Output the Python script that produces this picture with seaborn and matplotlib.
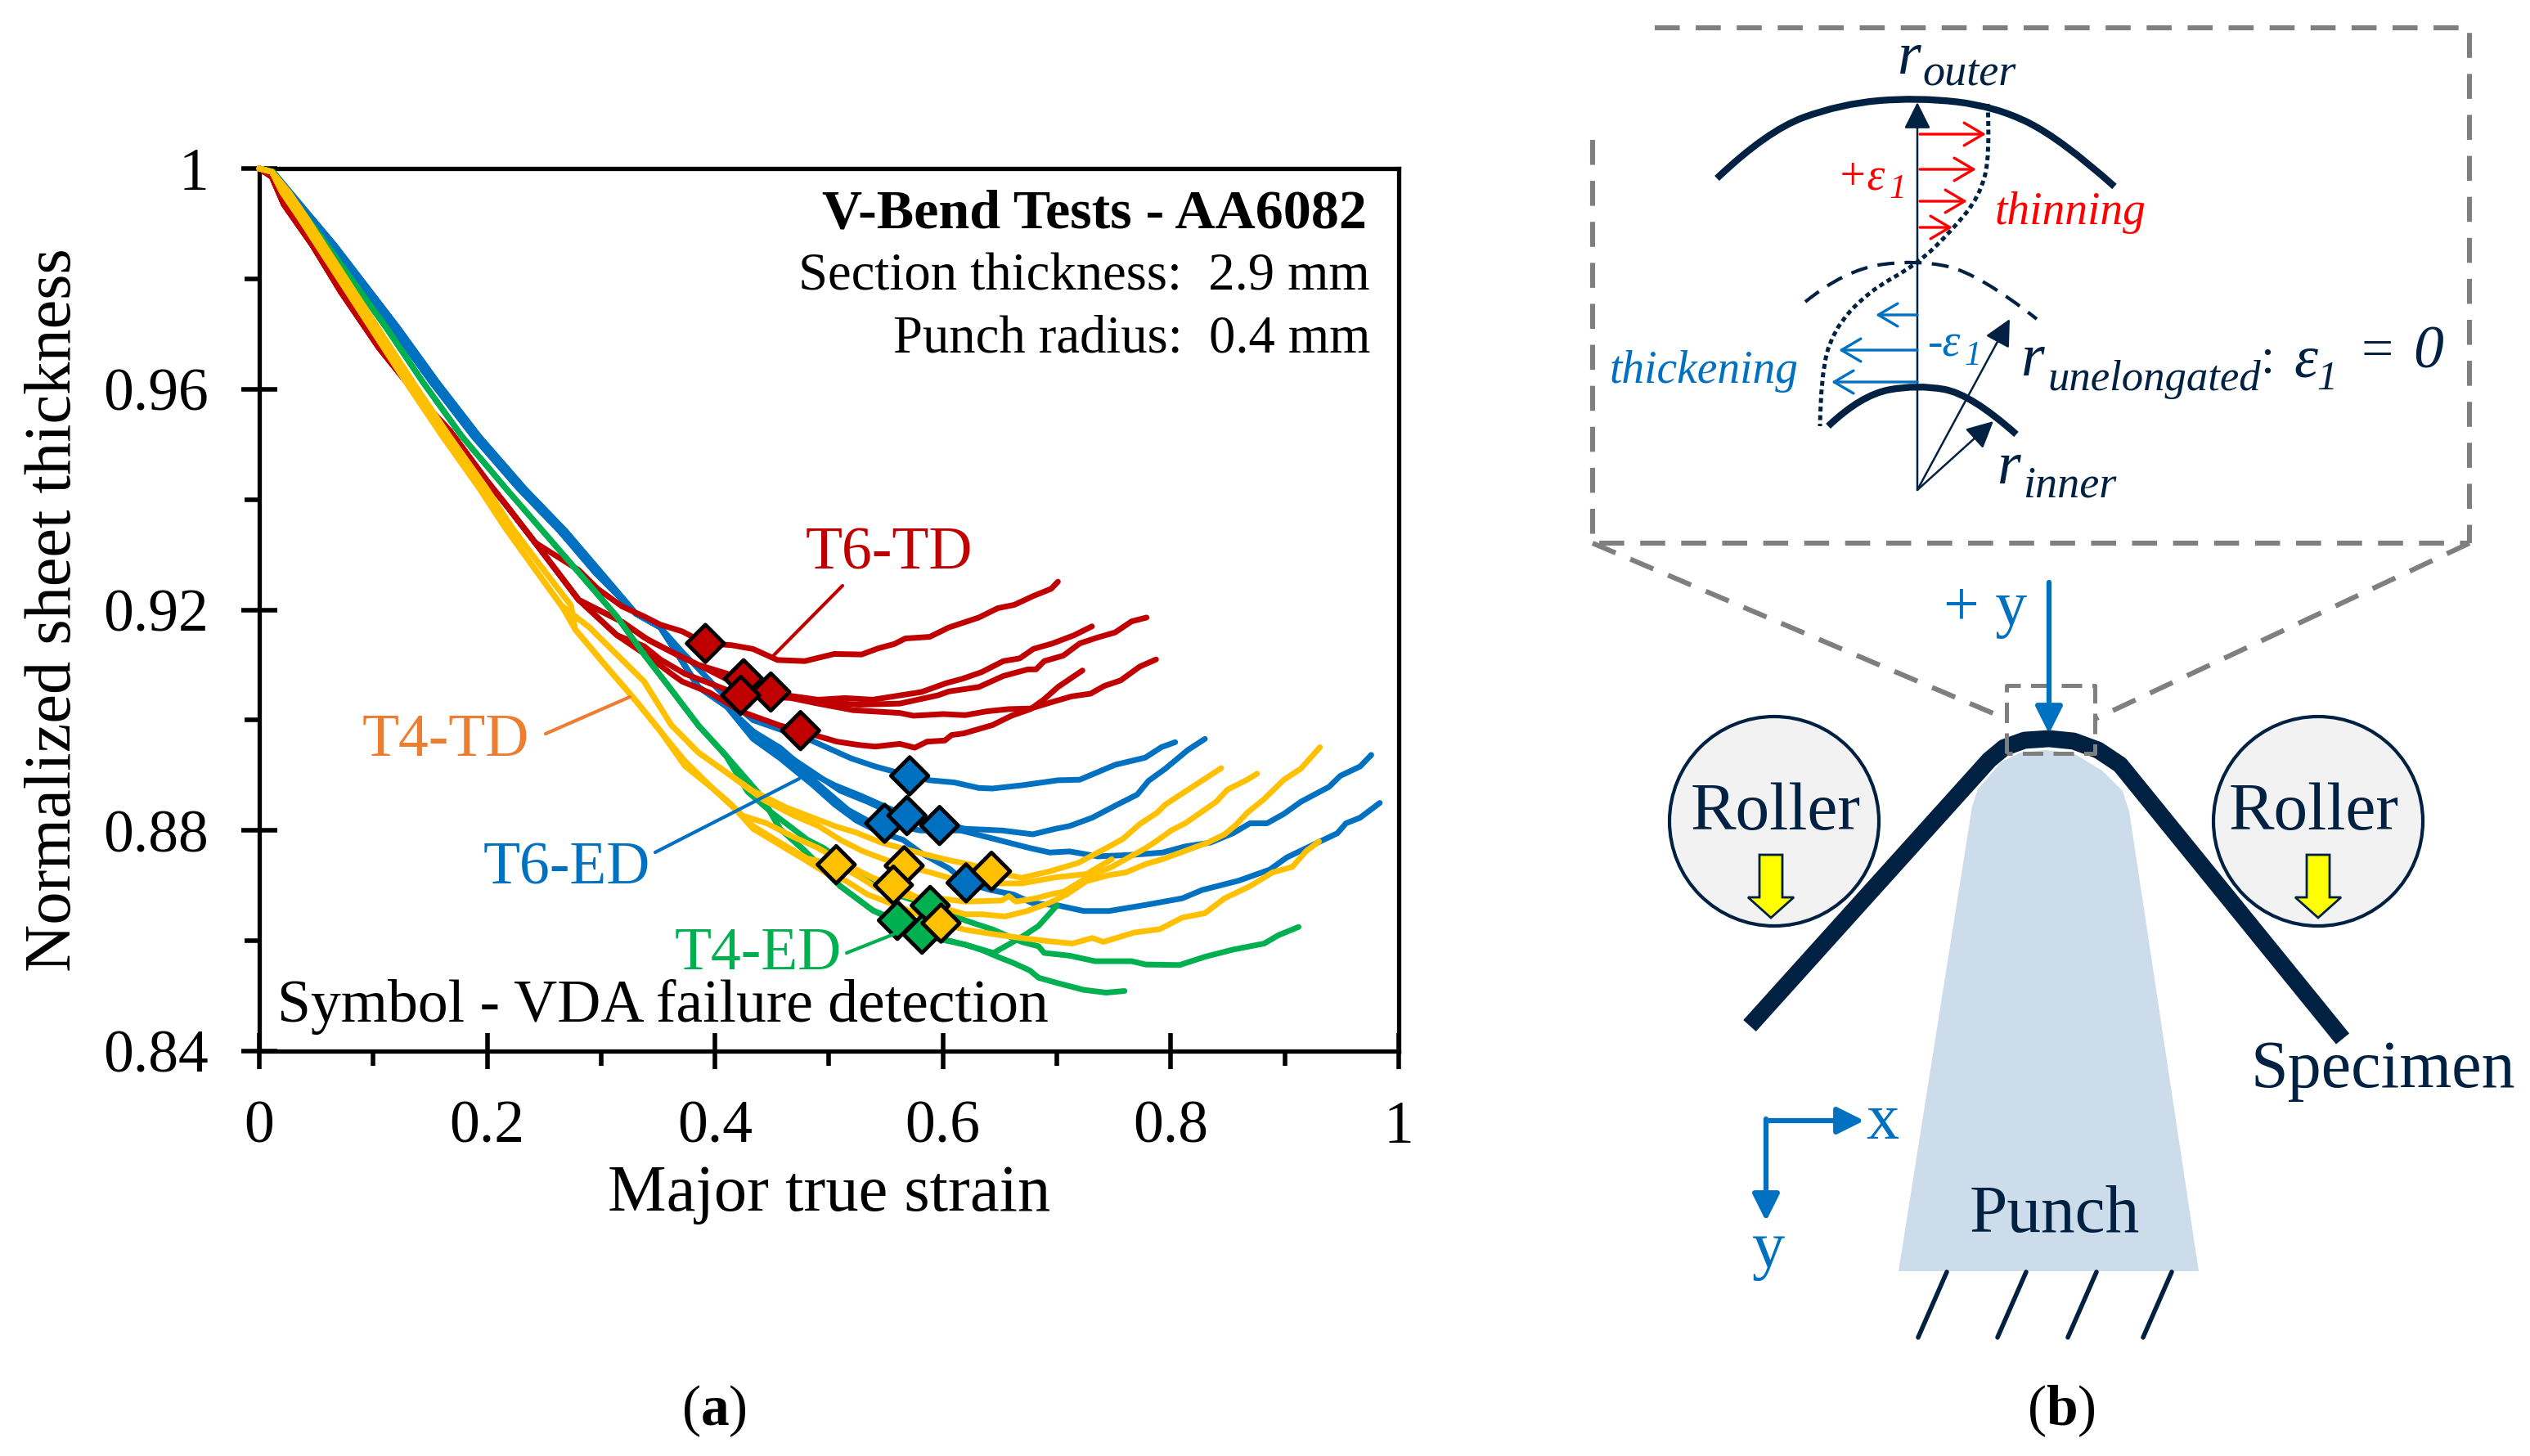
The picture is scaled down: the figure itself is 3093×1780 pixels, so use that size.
import numpy as np
import pandas as pd
import matplotlib
matplotlib.use("Agg")
import matplotlib.pyplot as plt
from matplotlib.path import Path
from matplotlib.patches import PathPatch, Circle, Polygon
import seaborn as sns

# colours
RED = "#C00000"
BLUE = "#0070C0"
GREEN = "#00B050"
YELLOW = "#FFC000"
ORANGE = "#ED7D31"
NAVY = "#002142"
GREY = "#7F7F7F"

# ---- panel (a) data ----
# common first part of the curves, two edges of each band
red_start_x = [0.0, 0.011, 0.0215, 0.0466, 0.0717, 0.105, 0.14, 0.1674, 0.2, 0.2181, 0.242]
red_start_y = [1.0, 0.9985, 0.9935, 0.9861, 0.9776, 0.9675, 0.9585, 0.9524, 0.9433, 0.9386, 0.9322]
blue_start_a_x = [0.0, 0.012, 0.0664, 0.1214, 0.156, 0.193, 0.2326, 0.269, 0.30]
blue_start_a_y = [1.0, 0.9994, 0.986, 0.9712, 0.9613, 0.9514, 0.942, 0.9342, 0.9267]
blue_start_b_x = [0.0, 0.012, 0.0614, 0.1164, 0.151, 0.188, 0.2276, 0.264, 0.295]
blue_start_b_y = [1.0, 0.9994, 0.986, 0.9712, 0.9613, 0.9514, 0.942, 0.9342, 0.9267]
green_start_x = [0.0, 0.012, 0.0598, 0.1112, 0.1435, 0.178, 0.2164, 0.2659, 0.3137, 0.3377, 0.3616, 0.3855, 0.4094]
green_start_y = [1.0, 0.9994, 0.986, 0.9712, 0.9613, 0.9514, 0.942, 0.9302, 0.9188, 0.9119, 0.9055, 0.899, 0.8936]
yellow_start_a_x = [0.0, 0.011, 0.02, 0.0355, 0.0666, 0.0977, 0.1287, 0.161, 0.1933, 0.2151, 0.239, 0.265]
yellow_start_a_y = [1.0, 0.9994, 0.9957, 0.991, 0.9811, 0.9712, 0.9613, 0.9514, 0.942, 0.9351, 0.9282, 0.9208]
yellow_start_b_x = [0.0, 0.011, 0.026, 0.0415, 0.0726, 0.1037, 0.1347, 0.167, 0.1993, 0.2211, 0.246, 0.2735]
yellow_start_b_y = [1.0, 0.9994, 0.9957, 0.991, 0.9811, 0.9712, 0.9613, 0.9514, 0.942, 0.9351, 0.9282, 0.9208]

t6td_x = [
    [0.2803, 0.297, 0.3185, 0.3377, 0.352, 0.371, 0.3915, 0.4142, 0.4333, 0.4548, 0.4787, 0.5047, 0.5286, 0.543, 0.5573, 0.5669, 0.5884, 0.6052, 0.6315, 0.6482, 0.6626, 0.6793, 0.6949, 0.7009],
    [0.2803, 0.3185, 0.3424, 0.3616, 0.3855, 0.4094, 0.425, 0.466, 0.4903, 0.5142, 0.5382, 0.5812, 0.6028, 0.6171, 0.6339, 0.653, 0.6674, 0.6793, 0.6961, 0.7152, 0.7308],
    [0.2803, 0.3185, 0.3377, 0.366, 0.3903, 0.4094, 0.4333, 0.4489, 0.4903, 0.5262, 0.5621, 0.5956, 0.6052, 0.6315, 0.653, 0.6745, 0.6817, 0.6889, 0.7057, 0.72, 0.7344, 0.7511, 0.7655, 0.7787],
    [0.2803, 0.3138, 0.3377, 0.352, 0.3735, 0.3975, 0.4225, 0.4668, 0.4903, 0.5214, 0.5621, 0.5741, 0.6004, 0.6195, 0.6387, 0.6578, 0.6769, 0.6961, 0.7128, 0.7296, 0.7416, 0.7559, 0.7727, 0.787],
    [0.2803, 0.3138, 0.3424, 0.3616, 0.3711, 0.395, 0.4237, 0.4572, 0.475, 0.4903, 0.507, 0.5262, 0.5406, 0.5621, 0.5752, 0.586, 0.6016, 0.6076, 0.6183, 0.6434, 0.6602, 0.6769, 0.6889, 0.7009, 0.7224],
]
t6td_y = [
    [0.9272, 0.9238, 0.9206, 0.9188, 0.9173, 0.9161, 0.9139, 0.9136, 0.9129, 0.9109, 0.9107, 0.912, 0.9119, 0.913, 0.9138, 0.9148, 0.9151, 0.9168, 0.9186, 0.9203, 0.9209, 0.9225, 0.9238, 0.9251],
    [0.9218, 0.9178, 0.9144, 0.9124, 0.91, 0.9085, 0.9075, 0.9044, 0.9037, 0.904, 0.9037, 0.9051, 0.9067, 0.9075, 0.9087, 0.9107, 0.9112, 0.9129, 0.9139, 0.9154, 0.917],
    [0.9218, 0.9178, 0.915, 0.9119, 0.9095, 0.9075, 0.9062, 0.9051, 0.9033, 0.9028, 0.903, 0.9045, 0.9052, 0.906, 0.908, 0.9092, 0.9092, 0.9107, 0.9117, 0.9139, 0.9149, 0.9159, 0.9179, 0.9186],
    [0.9218, 0.9154, 0.9134, 0.911, 0.9084, 0.9065, 0.9045, 0.904, 0.903, 0.9018, 0.9013, 0.9008, 0.9011, 0.9009, 0.9016, 0.902, 0.9021, 0.9033, 0.9043, 0.9048, 0.9062, 0.9072, 0.9097, 0.911],
    [0.9218, 0.9154, 0.9114, 0.9084, 0.907, 0.905, 0.9015, 0.899, 0.8981, 0.8971, 0.8961, 0.8955, 0.8952, 0.8957, 0.895, 0.8961, 0.8963, 0.8973, 0.8976, 0.8991, 0.9008, 0.902, 0.9038, 0.906, 0.909],
]
t6ed_x = [
    [0.3305, 0.352, 0.371, 0.41, 0.4333, 0.4835, 0.519, 0.5405, 0.5708, 0.5884, 0.61, 0.6315, 0.6434, 0.6698, 0.7009, 0.72, 0.7511, 0.7775, 0.7918, 0.8038],
    [0.3305, 0.352, 0.3855, 0.41, 0.433, 0.457, 0.481, 0.505, 0.529, 0.5505, 0.5684, 0.6195, 0.6517, 0.6789, 0.6987, 0.7111, 0.7309, 0.7532, 0.7705, 0.7804, 0.7952, 0.815, 0.8299],
    [0.3305, 0.352, 0.3855, 0.41, 0.433, 0.457, 0.481, 0.5099, 0.5338, 0.56, 0.597, 0.6195, 0.6443, 0.6764, 0.6938, 0.7111, 0.7358, 0.768, 0.7928, 0.8126, 0.8348, 0.8546, 0.8695, 0.8844, 0.8992, 0.9141, 0.9388, 0.9487, 0.9661, 0.9759],
    [0.3305, 0.352, 0.3855, 0.41, 0.4333, 0.457, 0.486, 0.505, 0.524, 0.543, 0.5649, 0.5816, 0.6055, 0.6203, 0.6418, 0.6616, 0.6789, 0.7012, 0.7235, 0.7457, 0.7779, 0.8101, 0.8274, 0.8596, 0.8868, 0.9017, 0.9289, 0.9462, 0.9537, 0.966, 0.9834],
    [0.3305, 0.352, 0.3855, 0.41, 0.433, 0.457, 0.486, 0.5027, 0.517, 0.5338, 0.5488, 0.58, 0.6195],
]
t6ed_y = [
    [0.9193, 0.9168, 0.9124, 0.904, 0.9, 0.8964, 0.8931, 0.8916, 0.8899, 0.8891, 0.8887, 0.8877, 0.8876, 0.8882, 0.8891, 0.8892, 0.8919, 0.8932, 0.8951, 0.896],
    [0.9193, 0.9168, 0.906, 0.9025, 0.898, 0.895, 0.8907, 0.8882, 0.8862, 0.8842, 0.8827, 0.8803, 0.88, 0.8793, 0.8803, 0.8808, 0.8823, 0.8847, 0.8865, 0.889, 0.8912, 0.8946, 0.8966],
    [0.9193, 0.9168, 0.906, 0.9025, 0.898, 0.8945, 0.8912, 0.8872, 0.8852, 0.8827, 0.8809, 0.8798, 0.8785, 0.8768, 0.876, 0.8762, 0.8753, 0.8756, 0.876, 0.8771, 0.8778, 0.8795, 0.8813, 0.8813, 0.883, 0.8852, 0.8879, 0.8899, 0.8916, 0.8937],
    [0.9193, 0.9168, 0.906, 0.9025, 0.8966, 0.8931, 0.8882, 0.8847, 0.8818, 0.8798, 0.8783, 0.8758, 0.8731, 0.8705, 0.8692, 0.8684, 0.8668, 0.8664, 0.8654, 0.8654, 0.8665, 0.8677, 0.8692, 0.8709, 0.8729, 0.8751, 0.8778, 0.8795, 0.8813, 0.8823, 0.885],
    [0.9193, 0.9168, 0.906, 0.9025, 0.898, 0.894, 0.8892, 0.8862, 0.8837, 0.8818, 0.8813, 0.88, 0.88],
]
t4ed_x = [
    [0.4405, 0.457, 0.4788, 0.5099, 0.5385, 0.56, 0.592, 0.6195, 0.6443, 0.6591, 0.6715, 0.6839, 0.70],
    [0.4286, 0.45, 0.4812, 0.4955, 0.529, 0.5433, 0.5888, 0.6195, 0.6443, 0.669, 0.6839, 0.6888, 0.7111, 0.7334, 0.7655, 0.7779, 0.8076, 0.8299, 0.8546, 0.8819, 0.8943, 0.9121],
    [0.4405, 0.457, 0.4788, 0.5099, 0.5385, 0.5816, 0.6195, 0.6344, 0.6492, 0.6616, 0.6764, 0.6839, 0.7012, 0.7235, 0.7433, 0.7593],
]
t4ed_y = [
    [0.8862, 0.8803, 0.8763, 0.8699, 0.8655, 0.8637, 0.8605, 0.8593, 0.8578, 0.8595, 0.861, 0.8627, 0.8664],
    [0.887, 0.8832, 0.8783, 0.8768, 0.8719, 0.8694, 0.8664, 0.8637, 0.862, 0.8598, 0.859, 0.8578, 0.8573, 0.8563, 0.8563, 0.8557, 0.8556, 0.8571, 0.8584, 0.8595, 0.861, 0.8625],
    [0.8862, 0.8803, 0.8763, 0.8699, 0.8655, 0.8612, 0.8593, 0.8583, 0.857, 0.856, 0.8546, 0.8533, 0.8523, 0.8511, 0.8506, 0.8509],
]
t4td_x = [
    [0.2898, 0.3137, 0.3377, 0.3616, 0.3855, 0.4094, 0.4429, 0.4692, 0.4907, 0.5099, 0.529, 0.548, 0.566, 0.5888, 0.6055, 0.6443, 0.669, 0.6987, 0.7259, 0.7482],
    [0.277, 0.3018, 0.3305, 0.352, 0.3735, 0.3975, 0.4237, 0.4453, 0.469, 0.4907, 0.5146, 0.5386, 0.5565, 0.5768, 0.6, 0.6195, 0.6517, 0.6579, 0.664, 0.6814, 0.6962, 0.7061, 0.7259, 0.7482, 0.7779, 0.7903, 0.8002, 0.8126, 0.8398, 0.8497, 0.867, 0.8757],
    [0.277, 0.3018, 0.3305, 0.352, 0.3736, 0.3975, 0.4142, 0.4333, 0.457, 0.481, 0.5063, 0.524, 0.5433, 0.572, 0.6007, 0.6195, 0.6344, 0.6542, 0.674, 0.6938, 0.7086, 0.7259, 0.7457, 0.7606, 0.7779, 0.7928, 0.8126, 0.8324, 0.8472, 0.8571, 0.867, 0.8819, 0.8992, 0.9141, 0.9309],
    [0.277, 0.3018, 0.3305, 0.352, 0.3736, 0.3975, 0.4142, 0.4333, 0.481, 0.5003, 0.5146, 0.5338, 0.5983, 0.6195, 0.6443, 0.669, 0.6938, 0.7136, 0.7309, 0.7408, 0.768, 0.7903, 0.8101, 0.8299, 0.8472, 0.8695, 0.8893, 0.9066, 0.919, 0.9301],
    [0.2898, 0.3137, 0.3377, 0.3616, 0.3855, 0.4094, 0.433, 0.462, 0.481, 0.505, 0.524, 0.5457, 0.5816, 0.6055, 0.6246, 0.6426, 0.669, 0.6938, 0.7185, 0.7433, 0.7581, 0.773, 0.7878, 0.7952, 0.81, 0.8249, 0.8442],
]
t4td_y = [
    [0.9168, 0.9119, 0.907, 0.8991, 0.8941, 0.8906, 0.8855, 0.8827, 0.8808, 0.8783, 0.8763, 0.8748, 0.8736, 0.8724, 0.8714, 0.8704, 0.8704, 0.8715, 0.8721, 0.8748],
    [0.9165, 0.9104, 0.9035, 0.898, 0.8926, 0.8877, 0.8827, 0.8813, 0.8788, 0.8768, 0.8739, 0.8714, 0.8701, 0.8679, 0.8676, 0.8671, 0.8673, 0.8681, 0.8671, 0.8677, 0.8685, 0.8689, 0.8714, 0.8734, 0.8768, 0.8785, 0.88, 0.8813, 0.8852, 0.8874, 0.8892, 0.8903],
    [0.9165, 0.9104, 0.9035, 0.898, 0.8917, 0.8877, 0.8847, 0.8808, 0.8778, 0.8749, 0.8738, 0.8719, 0.8694, 0.8679, 0.8659, 0.8648, 0.8648, 0.8644, 0.8654, 0.8669, 0.8684, 0.8708, 0.8719, 0.8724, 0.8739, 0.8748, 0.8763, 0.8778, 0.8793, 0.881, 0.8832, 0.8857, 0.8892, 0.8912, 0.8951],
    [0.9165, 0.9104, 0.9035, 0.898, 0.8917, 0.8877, 0.8847, 0.8803, 0.8744, 0.8719, 0.8709, 0.8684, 0.8632, 0.862, 0.8612, 0.8605, 0.8599, 0.8595, 0.8605, 0.8598, 0.8615, 0.8621, 0.8642, 0.865, 0.8677, 0.8699, 0.8724, 0.8734, 0.8763, 0.878],
    [0.9168, 0.9119, 0.907, 0.8991, 0.8941, 0.8906, 0.8872, 0.8842, 0.8827, 0.8808, 0.8796, 0.8778, 0.8758, 0.8746, 0.8738, 0.8726, 0.8714, 0.8726, 0.8741, 0.8768, 0.8785, 0.8812, 0.8832, 0.8847, 0.8867, 0.8887, 0.8913],
]

# failure points (VDA) per group
t6td_fail_x = [0.3915, 0.425, 0.4489, 0.4225, 0.475]
t6td_fail_y = [0.9139, 0.9075, 0.9051, 0.9045, 0.8981]
t6ed_fail_x = [0.5708, 0.5488, 0.597, 0.5684, 0.6203]
t6ed_fail_y = [0.8899, 0.8813, 0.8809, 0.8827, 0.8705]
t4ed_fail_x = [0.5888, 0.56, 0.5816]
t4ed_fail_y = [0.8664, 0.8637, 0.8612]
t4td_fail_x = [0.5063, 0.566, 0.5565, 0.6426, 0.5983]
t4td_fail_y = [0.8738, 0.8736, 0.8701, 0.8726, 0.8632]

x_ticks = [0, 0.2, 0.4, 0.6, 0.8, 1]
x_tick_labels = ["0", "0.2", "0.4", "0.6", "0.8", "1"]
y_ticks = [0.84, 0.88, 0.92, 0.96, 1]
y_tick_labels = ["0.84", "0.88", "0.92", "0.96", "1"]
x_minor = [0.1, 0.3, 0.5, 0.7, 0.9]
y_minor = [0.86, 0.90, 0.94, 0.98]

# ---- panel (b) schematic, in figure pixels ----
specimen_x = [2139, 2432, 2450, 2475, 2505, 2535, 2565, 2592, 2864]
specimen_y = [1254, 929, 914, 905, 903, 906, 917, 935, 1270]
punch_x = [2321, 2411, 2418, 2446, 2470, 2502, 2535, 2570, 2595, 2603, 2688]
punch_y = [1554, 986, 965, 932, 920, 917, 921, 942, 967, 992, 1554]
outer_arc = [(2099, 218), (2160, 160), (2250, 127), (2344, 119), (2440, 130), (2520, 170), (2585, 228)]
inner_arc = [(2235, 521), (2275, 483), (2344, 470), (2410, 482), (2465, 531)]
neutral_arc = [(2207, 369), (2255, 330), (2344, 317), (2420, 335), (2490, 390)]
strain_curve = [(2430, 127), (2433, 190), (2420, 240), (2387, 281), (2344, 323), (2283, 357), (2240, 405), (2226, 462), (2225, 521)]
red_arrows = [(164, 2428), (207, 2416), (246, 2405), (278, 2387)]
blue_arrows = [(385, 2293), (428, 2248), (467, 2239)]
hatch_tops = [2380, 2477, 2563, 2655]


def smooth_path(pts):
    # quadratic spline through midpoints of the control points
    pts = np.asarray(pts, dtype=float)
    verts = [pts[0]]
    codes = [Path.MOVETO]
    for i in range(1, len(pts) - 1):
        end = pts[i + 1] if i == len(pts) - 2 else (pts[i] + pts[i + 1]) / 2
        verts += [pts[i], end]
        codes += [Path.CURVE3, Path.CURVE3]
    return Path(verts, codes)


def build_frame(group, starts, xs, ys):
    rows = []
    for i, (cx, cy) in enumerate(zip(xs, ys)):
        start_x, start_y = starts[i % len(starts)]
        keep = [k for k in range(len(start_x)) if start_x[k] < cx[0]]
        px = [start_x[k] for k in keep] + cx
        py = [start_y[k] for k in keep] + cy
        rows.append(pd.DataFrame({"strain": px, "thickness": py, "group": group, "test": f"{group}-{i}"}))
    return pd.concat(rows)


sns.set_style("white")
plt.rcParams["font.family"] = ["Liberation Serif", "DejaVu Serif"]
plt.rcParams["mathtext.fontset"] = "custom"
plt.rcParams["mathtext.bf"] = "Liberation Serif:bold"
plt.rcParams["mathtext.rm"] = "Liberation Serif"
plt.rcParams["mathtext.it"] = "Liberation Serif:italic"
plt.rcParams["text.color"] = "black"
plt.rcParams["axes.labelcolor"] = "black"
plt.rcParams["xtick.color"] = "black"
plt.rcParams["ytick.color"] = "black"

W, H = 3093, 1780
fig = plt.figure(figsize=(W / 100, H / 100), dpi=100)
ax = fig.add_axes([317 / W, 1 - 1285 / H, 1393 / W, 1079 / H])

df = pd.concat([
    build_frame("T6-ED", [(blue_start_a_x, blue_start_a_y), (blue_start_b_x, blue_start_b_y)], t6ed_x, t6ed_y),
    build_frame("T6-TD", [(red_start_x, red_start_y)], t6td_x, t6td_y),
    build_frame("T4-ED", [(green_start_x, green_start_y)], t4ed_x, t4ed_y),
    build_frame("T4-TD", [(yellow_start_a_x, yellow_start_a_y), (yellow_start_b_x, yellow_start_b_y)], t4td_x, t4td_y),
])
palette = {"T6-ED": BLUE, "T6-TD": RED, "T4-ED": GREEN, "T4-TD": YELLOW}
sns.lineplot(data=df, x="strain", y="thickness", hue="group", units="test", estimator=None,
             sort=False, palette=palette, hue_order=["T6-ED", "T6-TD", "T4-ED", "T4-TD"],
             linewidth=5, legend=False, ax=ax, clip_on=False, zorder=3)

fails = pd.concat([
    pd.DataFrame({"strain": t6td_fail_x, "thickness": t6td_fail_y, "group": "T6-TD"}),
    pd.DataFrame({"strain": t6ed_fail_x, "thickness": t6ed_fail_y, "group": "T6-ED"}),
    pd.DataFrame({"strain": t4ed_fail_x, "thickness": t4ed_fail_y, "group": "T4-ED"}),
    pd.DataFrame({"strain": t4td_fail_x, "thickness": t4td_fail_y, "group": "T4-TD"}),
])
sns.scatterplot(data=fails, x="strain", y="thickness", hue="group", palette=palette, marker="D", s=540,
                edgecolor="black", linewidth=3.4, legend=False, ax=ax, zorder=5, clip_on=False)

ax.set_xlim(0, 1)
ax.set_ylim(0.84, 1)
ax.set_xticks(x_ticks, x_tick_labels)
ax.set_yticks(y_ticks, y_tick_labels)
ax.set_xticks(x_minor, minor=True)
ax.set_yticks(y_minor, minor=True)
ax.tick_params(axis="both", which="major", direction="inout", length=31, width=4, labelsize=53)
ax.tick_params(axis="both", which="minor", direction="out", length=13, width=4)
ax.tick_params(axis="x", which="major", pad=28)
ax.tick_params(axis="y", which="major", pad=29)
ax.xaxis.set_ticks_position("bottom")
ax.yaxis.set_ticks_position("left")
for s in ax.spines.values():
    s.set_visible(True)
    s.set_color("black")
    s.set_linewidth(3.8)
ax.set_xlabel("Major true strain", fontsize=58, labelpad=8)
ax.set_ylabel("Normalized sheet thickness", fontsize=58, labelpad=17)

# overlay in pixel coordinates for annotations and the schematic
ov = fig.add_axes([0, 0, 1, 1], zorder=10)
ov.set_xlim(0, W)
ov.set_ylim(H, 0)
ov.axis("off")
ov.patch.set_alpha(0)


def label(x, y, s, size=53, color="black", ha="center", style="normal", weight="normal"):
    ov.text(x, y, s, fontsize=size, color=color, ha=ha, va="center", style=style, weight=weight)


def arrow(x0, y0, x1, y1, color, lw, style="-|>,head_length=2.0,head_width=1.0", zorder=6):
    ov.annotate("", xy=(x1, y1), xytext=(x0, y0),
                arrowprops=dict(arrowstyle=style, color=color, lw=lw, shrinkA=0, shrinkB=0, mutation_scale=10),
                zorder=zorder)


# panel (a) texts
label(1671, 262, "V-Bend Tests - AA6082", 49, ha="right", weight="bold")
label(1675, 339, "Section thickness:  2.9 mm", 46.5, ha="right")
label(1675, 415, "Punch radius:  0.4 mm", 46.5, ha="right")
label(339, 1231, "Symbol - VDA failure detection", 53, ha="left")
label(1087, 678, "T6-TD", 53, RED)
label(545, 906, "T4-TD", 53, ORANGE)
label(693, 1063, "T6-ED", 53, BLUE)
label(927, 1167, "T4-ED", 53, GREEN)
ov.plot([1030, 946], [716, 801], color=RED, lw=3)
ov.plot([667, 770], [897, 852], color=ORANGE, lw=3)
ov.plot([801, 977], [1042, 952], color=BLUE, lw=3)
ov.plot([1035, 1093], [1165, 1142], color=GREEN, lw=3)
label(873, 1725, r"(${\bf a}$)", 50)
label(2520, 1725, r"(${\bf b}$)", 50)

# punch, rollers, specimen
ov.add_patch(Polygon(np.column_stack([punch_x, punch_y]), closed=True, fc="#CCDCEA", ec="none", zorder=1))
for cx in (2169, 2834):
    ov.add_patch(Circle((cx, 1004), 128, fc="#F2F2F2", ec=NAVY, lw=3, zorder=2))
    tip = cx - 4 if cx < 2500 else cx
    ov.add_patch(Polygon([(tip - 14, 1045), (tip + 14, 1045), (tip + 14, 1097), (tip + 28, 1097),
                          (tip, 1122), (tip - 28, 1097), (tip - 14, 1097)], closed=True, fc="yellow", ec=NAVY, lw=2, zorder=3))
ov.plot(specimen_x, specimen_y, color=NAVY, lw=15, solid_capstyle="butt", solid_joinstyle="round", zorder=4)
for top in hatch_tops:
    ov.plot([top, top - 35], [1555, 1635], color=NAVY, lw=4, zorder=2)
label(2171, 994, "Roller", 60, NAVY)
label(2829, 994, "Roller", 60, NAVY)
label(2913, 1309, "Specimen", 59, NAVY)
label(2512, 1486, "Punch", 60, NAVY)

# blue load arrow and coordinate system
arrow(2505, 712, 2505, 897, BLUE, 4.5)
arrow(2159, 1370, 2279, 1370, BLUE, 4.5)
arrow(2159, 1368, 2159, 1493, BLUE, 4.5)
label(2427, 745, "+ y", 56, BLUE)
label(2301, 1372, "x", 58, BLUE)
label(2162, 1530, "y", 58, BLUE)

# dashed detail box
dash = dict(color=GREY, lw=4.4, linestyle=(0, (5, 3.2)), zorder=5)
ov.plot([2023, 3019, 3019], [34, 34, 664], **dash)
ov.plot([1947, 1947, 3019], [171, 664, 664], **dash)
ov.plot([1947, 2453], [664, 879], **dash)
ov.plot([3019, 2561], [664, 879], **dash)
ov.plot([2453, 2453, 2561, 2561, 2453], [921, 838, 838, 921, 921], color=GREY, lw=3.6, linestyle=(0, (5, 2.5)), zorder=5)

# strain distribution sketch
ov.add_patch(PathPatch(smooth_path(outer_arc), fc="none", ec=NAVY, lw=6, capstyle="butt"))
ov.add_patch(PathPatch(smooth_path(inner_arc), fc="none", ec=NAVY, lw=6, capstyle="butt"))
ov.add_patch(PathPatch(smooth_path(neutral_arc), fc="none", ec=NAVY, lw=3, linestyle=(0, (5, 3))))
ov.add_patch(PathPatch(smooth_path(strain_curve), fc="none", ec=NAVY, lw=3.6, linestyle=(0, (1.2, 0.9))))
arrow(2344, 599, 2344, 125, NAVY, 1.8)
arrow(2344, 599, 2457, 390, NAVY, 1.8)
arrow(2344, 599, 2437, 515, NAVY, 1.8)
for yy, tip in red_arrows:
    arrow(2347, yy, tip, yy, "#FF0000", 2.4, "->,head_length=1.7,head_width=1.0")
for yy, tip in blue_arrows:
    arrow(2344, yy, tip, yy, BLUE, 2.4, "->,head_length=1.7,head_width=1.0")

label(2333, 72, "r", 53, NAVY, style="italic")
label(2408, 90, "outer", 39, NAVY, style="italic")
label(2246, 218, "+ε", 40, "#FF0000", ha="left", style="italic")
label(2320, 232, "1", 30, "#FF0000", style="italic")
label(2531, 260, "thinning", 40, "#FF0000", style="italic")
label(2083, 454, "thickening", 40, BLUE, style="italic")
label(2357, 422, "-ε", 40, BLUE, ha="left", style="italic")
label(2412, 436, "1", 30, BLUE, style="italic")
label(2484, 441, "r", 53, NAVY, style="italic")
label(2634, 464, "unelongated", 38, NAVY, style="italic")
label(2772, 441, ":", 44, NAVY)
label(2819, 443, "ε", 53, NAVY, style="italic")
label(2845, 464, "1", 36, NAVY, style="italic")
label(2906, 432, "=", 50, NAVY)
label(2969, 432, "0", 53, NAVY, style="italic")
label(2455, 573, "r", 53, NAVY, style="italic")
label(2531, 594, "inner", 39, NAVY, style="italic")

fig.savefig("out.png", dpi=100, facecolor="white")
